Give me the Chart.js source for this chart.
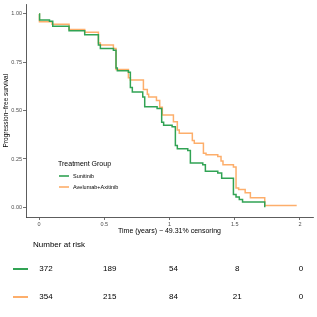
<!DOCTYPE html>
<html><head><meta charset="utf-8">
<script src="https://cdn.jsdelivr.net/npm/chart.js@4"></script>
<style>html,body{margin:0;padding:0;background:#fff;} canvas{display:block;}</style>
</head><body>
<canvas id="km" width="317" height="238"></canvas>
<canvas id="risk" width="317" height="79"></canvas>
<script>
const groupNames = ['Sunitinib', 'Avelumab+Axitinib'];
const groupColors = ['#31a354', '#fdae6b'];

const sunTimes = [0, 0.004, 0.08, 0.105, 0.23, 0.35, 0.455, 0.47, 0.57, 0.59, 0.60, 0.685, 0.70, 0.715, 0.795, 0.81, 0.905, 0.94, 0.955, 1.02, 1.045, 1.06, 1.14, 1.16, 1.255, 1.275, 1.37, 1.40, 1.49, 1.51, 1.535, 1.56, 1.73];
const sunSurv  = [1, 0.969, 0.962, 0.936, 0.913, 0.892, 0.84, 0.822, 0.812, 0.72, 0.706, 0.698, 0.62, 0.596, 0.57, 0.52, 0.511, 0.44, 0.425, 0.417, 0.32, 0.303, 0.294, 0.229, 0.22, 0.186, 0.178, 0.150, 0.067, 0.053, 0.041, 0.027, 0.0];

const aveTimes = [0, 0.003, 0.10, 0.23, 0.35, 0.455, 0.47, 0.57, 0.59, 0.685, 0.70, 0.80, 0.83, 0.84, 0.90, 0.925, 0.945, 1.03, 1.06, 1.075, 1.175, 1.19, 1.26, 1.28, 1.37, 1.395, 1.41, 1.49, 1.51, 1.53, 1.58, 1.62, 1.73, 1.975];
const aveSurv  = [1, 0.96, 0.947, 0.92, 0.905, 0.85, 0.84, 0.822, 0.713, 0.67, 0.658, 0.61, 0.585, 0.571, 0.553, 0.518, 0.477, 0.443, 0.40, 0.383, 0.345, 0.332, 0.28, 0.272, 0.263, 0.24, 0.22, 0.209, 0.10, 0.092, 0.075, 0.05, 0.01, 0.01];

const yTicks = [0, 0.25, 0.5, 0.75, 1];
const yTickLabels = ['0.00', '0.25', '0.50', '0.75', '1.00'];
const xTicks = [0, 0.5, 1, 1.5, 2];
const xTickLabels = ['0', '0.5', '1', '1.5', '2'];

const riskTimes = [0, 0.5, 1, 1.5, 2];
const sunRisk = [372, 189, 54, 8, 0];
const aveRisk = [354, 215, 84, 21, 0];

const FONT = '"Liberation Sans", Arial, Helvetica, sans-serif';
const toXY = (ts, ss) => ts.map((t, i) => ({x: t, y: ss[i]}));

const legendPlugin = {
  id: 'kmLegend',
  afterDraw(chart) {
    const ctx = chart.ctx;
    ctx.save();
    ctx.fillStyle = '#000';
    ctx.font = '7px ' + FONT;
    ctx.textBaseline = 'middle';
    ctx.textAlign = 'left';
    ctx.fillText('Treatment Group', 58, 164);
    const ys = [176, 187];
    chart.data.datasets.forEach((ds, i) => {
      ctx.strokeStyle = ds.borderColor;
      ctx.lineWidth = 1.6;
      ctx.beginPath();
      ctx.moveTo(59, ys[i]);
      ctx.lineTo(69, ys[i]);
      ctx.stroke();
      ctx.fillStyle = '#000';
      ctx.font = '5.5px ' + FONT;
      ctx.fillText(ds.label, 73, ys[i]);
    });
    ctx.restore();
  }
};

new Chart(document.getElementById('km'), {
  type: 'line',
  data: {
    datasets: [
      {label: groupNames[0], data: toXY(sunTimes, sunSurv), borderColor: groupColors[0], borderWidth: 1.5, stepped: 'before', pointRadius: 0, fill: false},
      {label: groupNames[1], data: toXY(aveTimes, aveSurv), borderColor: groupColors[1], borderWidth: 1.5, stepped: 'before', pointRadius: 0, fill: false}
    ]
  },
  options: {
    responsive: false,
    animation: false,
    layout: {padding: {top: 3, right: 4, left: 0, bottom: 0}},
    plugins: {legend: {display: false}, tooltip: {enabled: false}},
    scales: {
      x: {
        type: 'linear', min: -0.1, max: 2.1,
        afterBuildTicks: s => { s.ticks = xTicks.map(v => ({value: v})); },
        afterFit: s => { s.height = 21; },
        ticks: {callback: (v, i) => xTickLabels[i], font: {size: 5.5, family: FONT}, color: '#4d4d4d', padding: 1, maxRotation: 0, autoSkip: false},
        grid: {drawOnChartArea: false, drawTicks: true, tickLength: 3, color: '#333', lineWidth: 0.7},
        border: {display: true, color: '#333', width: 0.8},
        title: {display: true, text: 'Time (years) \u2212 49.31% censoring', font: {size: 7, family: FONT}, color: '#000', padding: {top: 0, bottom: 3}}
      },
      y: {
        type: 'linear', min: -0.05, max: 1.05,
        afterBuildTicks: s => { s.ticks = yTicks.map(v => ({value: v})); },
        afterFit: s => { s.width = 26; },
        ticks: {callback: (v, i) => yTickLabels[i], font: {size: 5.5, family: FONT}, color: '#4d4d4d', padding: 1, autoSkip: false},
        grid: {drawOnChartArea: false, drawTicks: true, tickLength: 3, color: '#333', lineWidth: 0.7},
        border: {display: true, color: '#333', width: 0.8},
        title: {display: true, text: 'Progression\u2212free survival', font: {size: 6.5, family: FONT}, color: '#000', padding: {top: 2, bottom: 0}}
      }
    }
  },
  plugins: [legendPlugin]
});

const riskPlugin = {
  id: 'riskText',
  afterDraw(chart) {
    const ctx = chart.ctx;
    ctx.save();
    ctx.fillStyle = '#000';
    ctx.font = '8px ' + FONT;
    ctx.textBaseline = 'middle';
    ctx.textAlign = 'left';
    ctx.fillText('Number at risk', 33, 6.5);
    chart.data.datasets.forEach((ds, i) => {
      const meta = chart.getDatasetMeta(i);
      const y = meta.data[0].y;
      ctx.strokeStyle = ds.lineColor;
      ctx.lineWidth = 2;
      ctx.beginPath();
      ctx.moveTo(13, y);
      ctx.lineTo(28, y);
      ctx.stroke();
      ctx.fillStyle = '#000';
      ctx.textAlign = 'center';
      ctx.font = '8px ' + FONT;
      meta.data.forEach((pt, j) => {
        ctx.fillText(String(ds.counts[j]), pt.x, pt.y);
      });
    });
    ctx.restore();
  }
};

new Chart(document.getElementById('risk'), {
  type: 'scatter',
  data: {
    datasets: [
      {label: groupNames[0], lineColor: groupColors[0], counts: sunRisk, data: riskTimes.map(t => ({x: t, y: 1})), pointRadius: 0},
      {label: groupNames[1], lineColor: groupColors[1], counts: aveRisk, data: riskTimes.map(t => ({x: t, y: 0})), pointRadius: 0}
    ]
  },
  options: {
    responsive: false,
    animation: false,
    layout: {padding: {top: 31, bottom: 20, left: 46, right: 16}},
    plugins: {legend: {display: false}, tooltip: {enabled: false}},
    scales: {
      x: {type: 'linear', min: 0, max: 2, display: false},
      y: {type: 'linear', min: 0, max: 1, display: false}
    }
  },
  plugins: [riskPlugin]
});
</script>
</body></html>
